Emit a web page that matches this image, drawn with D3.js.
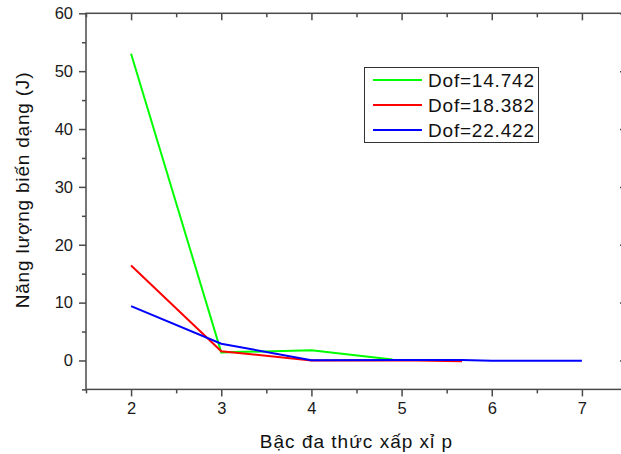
<!DOCTYPE html>
<html>
<head>
<meta charset="utf-8">
<script src="https://cdn.jsdelivr.net/npm/d3@7"></script>
<style>
  html, body { margin: 0; padding: 0; background: #fff; }
  svg { display: block; font-family: "Liberation Sans", Arial, sans-serif; }
</style>
</head>
<body>
<svg id="chart" width="621" height="454"></svg>
<script>
// Polynomial order p (x) against strain energy (J) for three mesh sizes
const seriesNames = ["Dof=14.742", "Dof=18.382", "Dof=22.422"];
const seriesColors = ["#00ff00", "#ff0000", "#0000ff"];

const pGreen = [2, 3, 4, 4.9];
const eGreen = [53.0, 1.4, 1.75, 0.15];

const pRed = [2, 3, 4, 5, 5.67];
const eRed = [16.4, 1.6, 0.0, 0.05, -0.15];

const pBlue = [2, 3, 4, 5, 5.67, 6, 7];
const eBlue = [9.4, 2.9, 0.05, 0.1, 0.1, -0.05, -0.05];

const xTickValues = [2, 3, 4, 5, 6, 7];
const yTickValues = [0, 10, 20, 30, 40, 50, 60];

const seriesP = [pGreen, pRed, pBlue];
const seriesE = [eGreen, eRed, eBlue];

const svg = d3.select("#chart");
const x = d3.scaleLinear().domain([1.5, 7.5]).range([86, 627]);
const y = d3.scaleLinear().domain([-5, 60]).range([389.4, 13.3]);

const axisColor = "#4a4a4a";
const minorX = d3.range(1.5, 7.51, 0.5).filter(v => !xTickValues.includes(v));
const minorY = d3.range(-5, 60.1, 5).filter(v => !yTickValues.includes(v));

function styleAxis(g) {
  g.select(".domain").remove();
  g.selectAll(".tick line").attr("stroke", axisColor).attr("stroke-width", 1.5);
  g.selectAll(".tick text")
    .attr("fill", "#1a1a1a")
    .style("font-size", "16.5px")
    .style("font-family", "'Liberation Sans', Arial, sans-serif");
}

// bottom axis: major + minor, outward
svg.append("g").attr("transform", `translate(0,${y(-5)})`)
  .call(d3.axisBottom(x).tickValues(xTickValues).tickFormat(d3.format("d")).tickSize(7).tickPadding(6))
  .call(styleAxis);
svg.append("g").attr("transform", `translate(0,${y(-5)})`)
  .call(d3.axisBottom(x).tickValues(minorX).tickFormat("").tickSize(4))
  .call(styleAxis);

// left axis: major + minor, outward
svg.append("g").attr("transform", `translate(${x(1.5)},0)`)
  .call(d3.axisLeft(y).tickValues(yTickValues).tickFormat(d3.format("d")).tickSize(7).tickPadding(6))
  .call(styleAxis);
svg.append("g").attr("transform", `translate(${x(1.5)},0)`)
  .call(d3.axisLeft(y).tickValues(minorY).tickFormat("").tickSize(4))
  .call(styleAxis);

// top axis: ticks pointing inward
svg.append("g").attr("transform", `translate(0,${y(60)})`)
  .call(d3.axisBottom(x).tickValues(xTickValues).tickFormat("").tickSize(7))
  .call(styleAxis);
svg.append("g").attr("transform", `translate(0,${y(60)})`)
  .call(d3.axisBottom(x).tickValues(minorX).tickFormat("").tickSize(4))
  .call(styleAxis);

// right axis: ticks pointing inward
svg.append("g").attr("transform", `translate(${x(7.5)},0)`)
  .call(d3.axisLeft(y).tickValues(yTickValues).tickFormat("").tickSize(7))
  .call(styleAxis);
svg.append("g").attr("transform", `translate(${x(7.5)},0)`)
  .call(d3.axisLeft(y).tickValues(minorY).tickFormat("").tickSize(4))
  .call(styleAxis);

// frame
svg.append("rect")
  .attr("x", x(1.5)).attr("y", y(60))
  .attr("width", x(7.5) - x(1.5)).attr("height", y(-5) - y(60))
  .attr("fill", "none").attr("stroke", axisColor).attr("stroke-width", 1.5);

// data lines
const line = d3.line().x(d => x(d[0])).y(d => y(d[1]));
seriesP.forEach((ps, i) => {
  const pts = ps.map((p, j) => [p, seriesE[i][j]]);
  svg.append("path")
    .datum(pts)
    .attr("d", line)
    .attr("fill", "none")
    .attr("stroke", seriesColors[i])
    .attr("stroke-width", 2)
    .attr("stroke-linejoin", "miter");
});

// axis titles
svg.append("text")
  .attr("x", (x(1.5) + x(7.5)) / 2)
  .attr("y", 448)
  .attr("text-anchor", "middle")
  .attr("fill", "#111")
  .style("font-size", "19px")
  .style("letter-spacing", "1px")
  .text("Bậc đa thức xấp xỉ p");

svg.append("text")
  .attr("transform", `translate(29,190) rotate(-90)`)
  .attr("text-anchor", "middle")
  .attr("fill", "#111")
  .style("font-size", "19px")
  .style("letter-spacing", "0.8px")
  .text("Năng lượng biến dạng (J)");

// legend
const legend = svg.append("g");
legend.append("rect")
  .attr("x", 364.5).attr("y", 67.5)
  .attr("width", 174).attr("height", 75)
  .attr("fill", "#fff").attr("stroke", "#333").attr("stroke-width", 1);
seriesNames.forEach((name, i) => {
  const cy = 80 + i * 25;
  legend.append("line")
    .attr("x1", 373).attr("x2", 422)
    .attr("y1", cy).attr("y2", cy)
    .attr("stroke", seriesColors[i]).attr("stroke-width", 2);
  legend.append("text")
    .attr("x", 428).attr("y", cy + 7)
    .attr("fill", "#111")
    .style("font-size", "19px")
    .style("letter-spacing", "0.8px")
    .text(name);
});
</script>
</body>
</html>
